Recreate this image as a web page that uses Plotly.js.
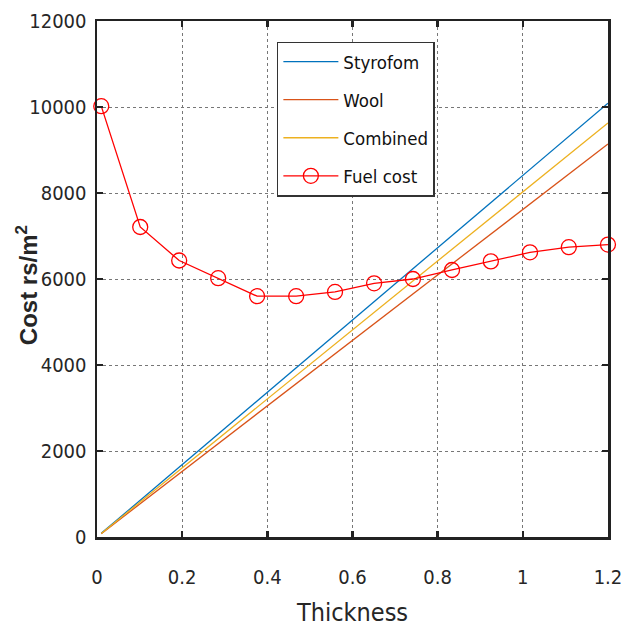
<!DOCTYPE html>
<html>
<head>
<meta charset="utf-8">
<script src="https://cdn.plot.ly/plotly-3.0.1.min.js"></script>
<style>html,body{margin:0;padding:0;background:#fff;}#chart{width:621px;height:627px;}</style>
</head>
<body>
<div id="chart"></div>
<script>
const lineX = [0.01, 1.2];
const styrofom = [85, 10090];
const wool = [78, 9140];
const combined = [82, 9630];

const fuelX = [0.01, 0.1015, 0.193, 0.2846, 0.376, 0.4677, 0.559, 0.6508, 0.742, 0.8338, 0.925, 1.0169, 1.108, 1.2];
const fuelCost = [10020, 7210, 6430, 6020, 5600, 5600, 5700, 5900, 6000, 6210, 6410, 6620, 6740, 6800];

const seriesNames = ['Styrofom', 'Wool', 'Combined', 'Fuel cost'];
const xTicks = [0, 0.2, 0.4, 0.6, 0.8, 1, 1.2];
const xTickText = ['0', '0.2', '0.4', '0.6', '0.8', '1', '1.2'];
const yTicks = [0, 2000, 4000, 6000, 8000, 10000, 12000];
const yTickText = ['0', '2000', '4000', '6000', '8000', '10000', '12000'];
const yTitle = '<b>Cost rs/m<sup>2</sup></b>';
const xTitle = 'Thickness';

const fontFam = '"Liberation Sans Narrow", "DejaVu Sans Condensed", "Arial Narrow", "Liberation Sans", Arial, sans-serif';

const traces = [
  {x: lineX, y: styrofom, name: seriesNames[0], mode: 'lines', line: {color: '#0072BD', width: 1.3}, legendgroup: 'a'},
  {x: lineX, y: wool, name: seriesNames[1], mode: 'lines', line: {color: '#D95319', width: 1.3}, legendgroup: 'b'},
  {x: lineX, y: combined, name: seriesNames[2], mode: 'lines', line: {color: '#EDB120', width: 1.3}, legendgroup: 'c'},
  {x: fuelX, y: fuelCost, name: seriesNames[3], mode: 'lines+markers', line: {color: '#FF0000', width: 1.3},
   marker: {symbol: 'circle-open', size: 15, color: '#FF0000', line: {width: 1.3, color: '#FF0000'}}, legendgroup: 'd', cliponaxis: false}
];

const layout = {
  width: 621, height: 627,
  margin: {l: 97, r: 13, t: 21, b: 90},
  paper_bgcolor: '#ffffff', plot_bgcolor: '#ffffff',
  font: {family: fontFam, color: '#262626', size: 18},
  showlegend: true,
  legend: {
    x: 0.352, y: 0.96, xanchor: 'left', yanchor: 'top',
    bgcolor: '#ffffff', bordercolor: '#333333', borderwidth: 1.5,
    font: {family: fontFam, size: 18.5, color: '#111'},
    traceorder: 'grouped', tracegroupgap: 11, itemwidth: 55
  },
  annotations: [{
    text: yTitle, xref: 'paper', yref: 'paper', x: -0.137, y: 0.488,
    xanchor: 'center', yanchor: 'middle', textangle: -90, showarrow: false,
    font: {family: '"Liberation Sans", Arial, sans-serif', size: 24, color: '#262626'}
  }],
  xaxis: {
    range: [0, 1.2001], tickvals: xTicks, ticktext: xTickText, ticklabeloverflow: 'allow',
    showline: true, linecolor: '#222', linewidth: 2.5, mirror: 'ticks',
    ticks: 'inside', ticklen: 6, tickwidth: 2.5, tickcolor: '#222',
    showgrid: true, gridcolor: '#777', griddash: 'dot', gridwidth: 1,
    zeroline: false, ticklabelstandoff: 20,
    tickfont: {family: fontFam, size: 20, color: '#262626'},
    title: {text: xTitle, font: {family: fontFam, size: 25, color: '#262626'}, standoff: 16}
  },
  yaxis: {
    range: [0, 12000.5], tickvals: yTicks, ticktext: yTickText, ticklabeloverflow: 'allow',
    showline: true, linecolor: '#222', linewidth: 2.5, mirror: 'ticks',
    ticks: 'inside', ticklen: 6, tickwidth: 2.5, tickcolor: '#222',
    showgrid: true, gridcolor: '#777', griddash: 'dot', gridwidth: 1,
    zeroline: false, ticklabelstandoff: 4,
    tickfont: {family: fontFam, size: 20, color: '#262626'}
  }
};

Plotly.newPlot('chart', traces, layout, {displayModeBar: false, staticPlot: true});
</script>
</body>
</html>
